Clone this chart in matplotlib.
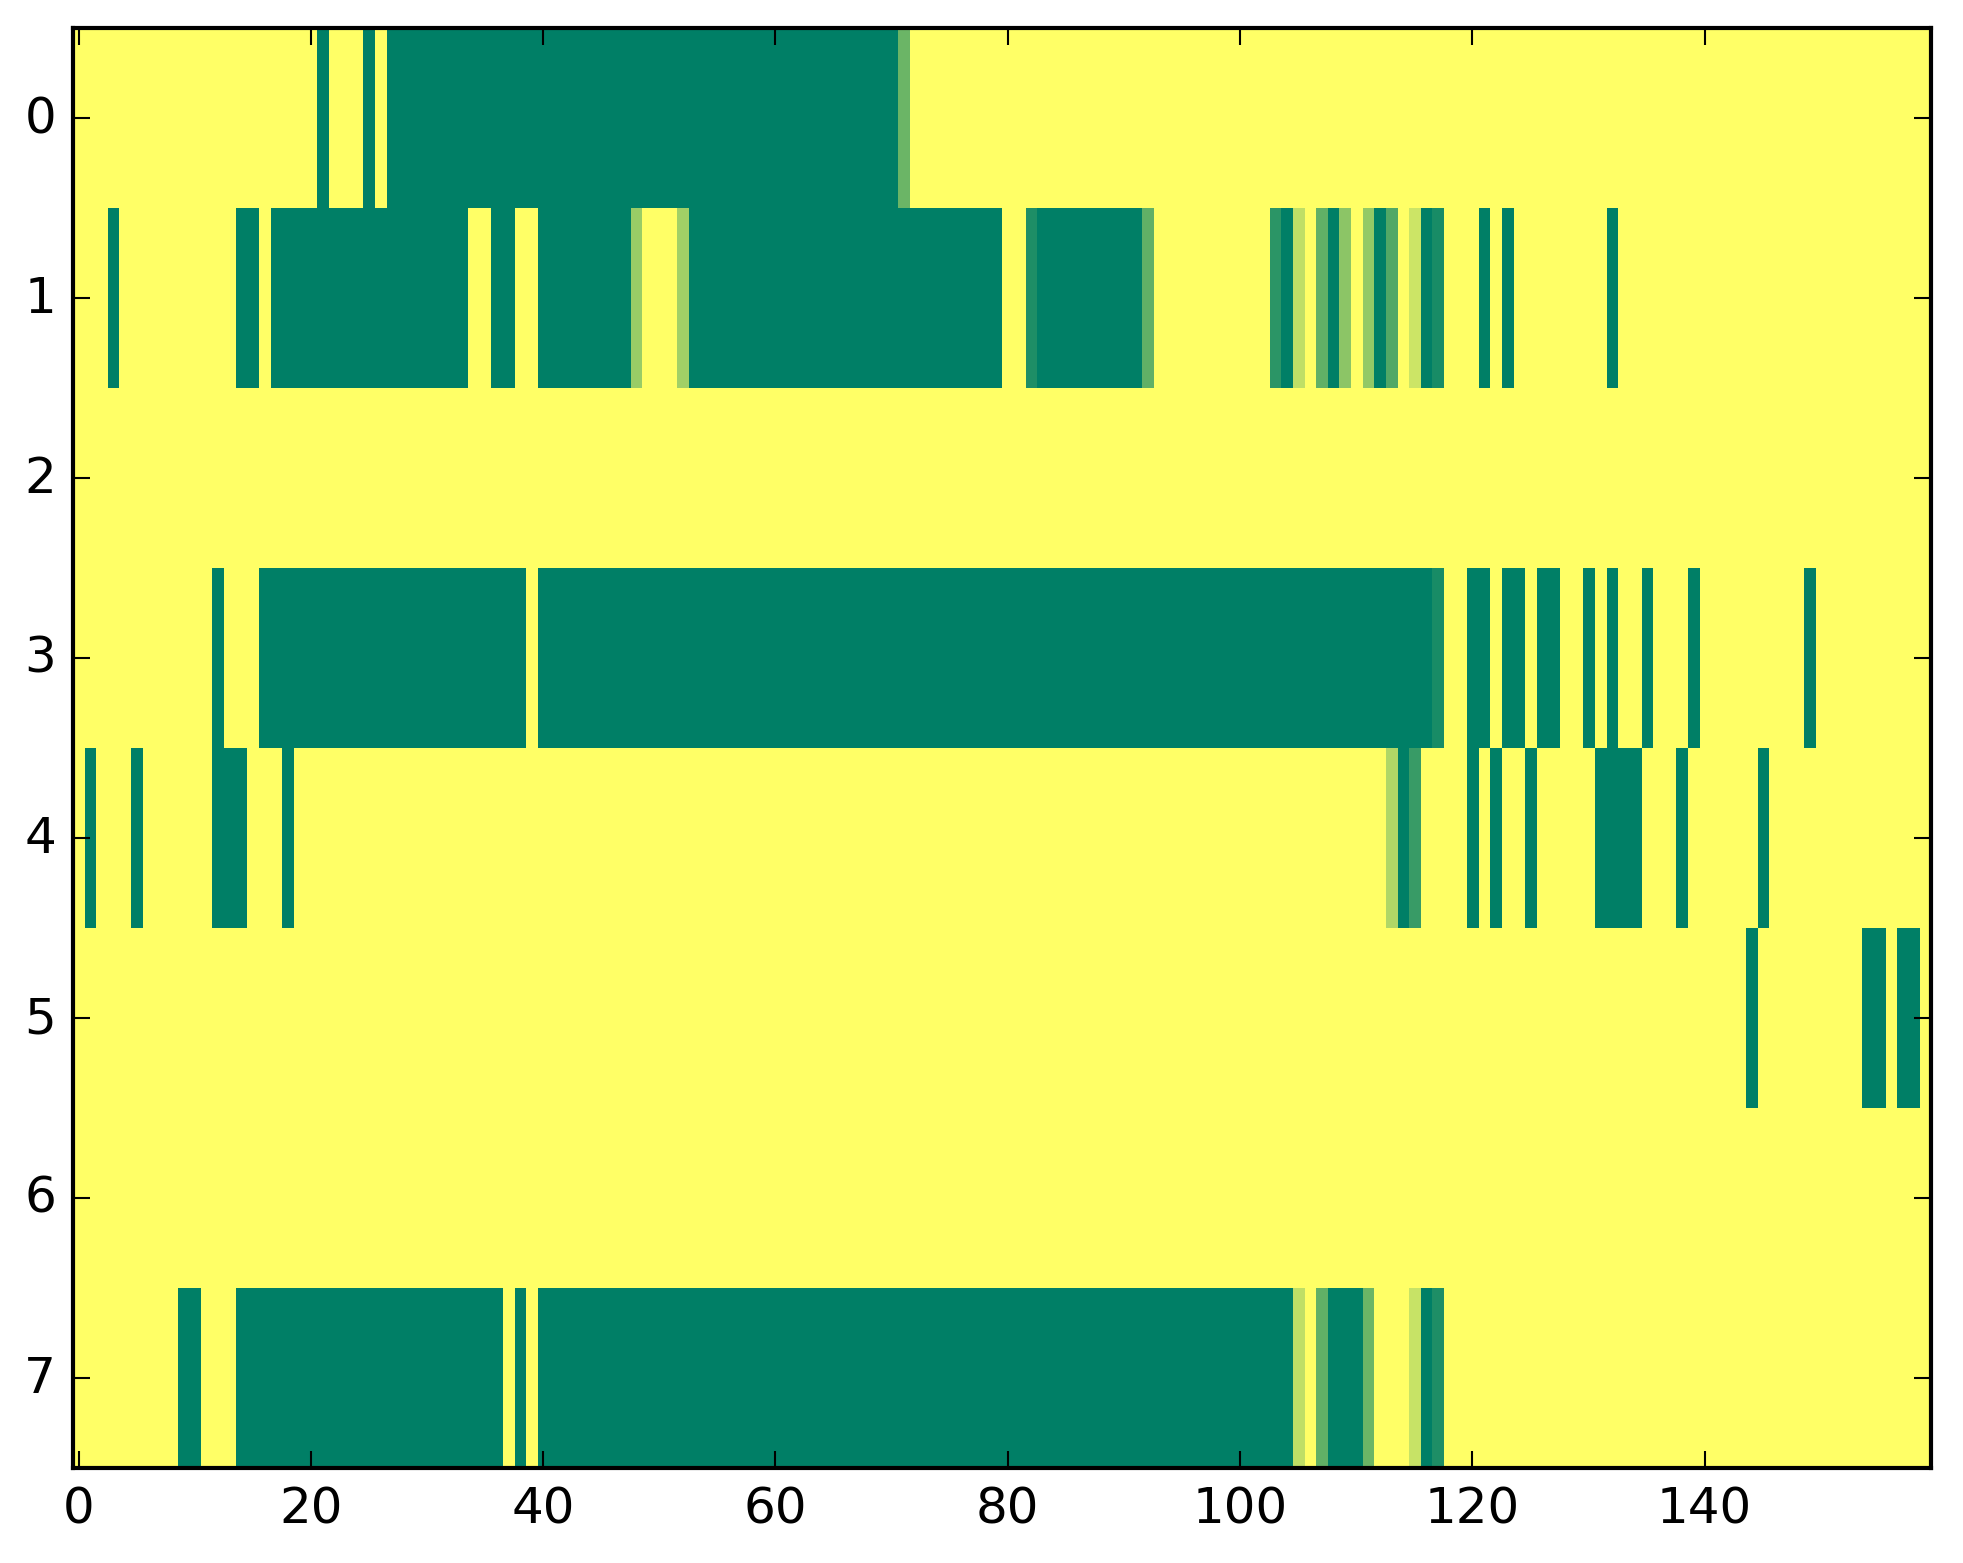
import numpy as np
import matplotlib
matplotlib.use("Agg")
import matplotlib.pyplot as plt

plt.style.use("classic")

# Each row: run-length list of (value, number of consecutive columns)
row0_runs = [(0.0, 21), (1.0, 1), (0.0, 3), (1.0, 1), (0.0, 1), (1.0, 44),
             (0.58, 1), (0.0, 88)]
row1_runs = [(0.0, 3), (1.0, 1), (0.0, 10), (1.0, 2), (0.0, 1), (1.0, 17),
             (0.0, 2), (1.0, 2), (0.0, 2), (1.0, 8), (0.40, 1), (0.0, 3),
             (0.37, 1), (1.0, 27), (0.0, 2), (0.88, 1), (1.0, 9), (0.62, 1),
             (0.0, 10), (0.83, 1), (1.0, 1), (0.25, 1), (0.0, 1), (0.62, 1),
             (1.0, 1), (0.45, 1), (0.0, 1), (0.42, 1), (1.0, 1), (0.68, 1),
             (0.0, 1), (0.20, 1), (1.0, 1), (0.90, 1), (0.0, 3), (1.0, 1),
             (0.0, 1), (1.0, 1), (0.0, 8), (1.0, 1), (0.0, 27)]
row2_runs = [(0.0, 160)]
row3_runs = [(0.0, 12), (1.0, 1), (0.0, 3), (1.0, 23), (0.0, 1), (1.0, 77),
             (0.90, 1), (0.0, 2), (1.0, 2), (0.0, 1), (1.0, 2), (0.0, 1),
             (1.0, 2), (0.0, 2), (1.0, 1), (0.0, 1), (1.0, 1), (0.0, 2),
             (1.0, 1), (0.0, 3), (1.0, 1), (0.0, 9), (1.0, 1), (0.0, 10)]
row4_runs = [(0.0, 1), (1.0, 1), (0.0, 3), (1.0, 1), (0.0, 6), (1.0, 3),
             (0.0, 3), (1.0, 1), (0.0, 94), (0.31, 1), (1.0, 1), (0.78, 1),
             (0.0, 4), (1.0, 1), (0.0, 1), (1.0, 1), (0.0, 2), (1.0, 1),
             (0.0, 5), (1.0, 4), (0.0, 3), (1.0, 1), (0.0, 6), (1.0, 1),
             (0.0, 14)]
row5_runs = [(0.0, 144), (1.0, 1), (0.0, 9), (1.0, 2), (0.0, 1), (1.0, 2),
             (0.0, 1)]
row6_runs = [(0.0, 160)]
row7_runs = [(0.0, 9), (1.0, 2), (0.0, 3), (1.0, 23), (0.0, 1), (1.0, 1),
             (0.0, 1), (1.0, 65), (0.25, 1), (0.0, 1), (0.62, 1), (1.0, 3),
             (0.58, 1), (0.0, 3), (0.22, 1), (1.0, 1), (0.88, 1), (0.0, 42)]

row_labels = [0, 1, 2, 3, 4, 5, 6, 7]


def expand(runs):
    return np.concatenate([np.full(n, v, dtype=float) for v, n in runs])


data = np.vstack([expand(r) for r in (row0_runs, row1_runs, row2_runs,
                                      row3_runs, row4_runs, row5_runs,
                                      row6_runs, row7_runs)])

W, H, DPI = 1963, 1564, 300
fig = plt.figure(figsize=(W / DPI, H / DPI), dpi=DPI, facecolor="white")
left_px, right_px, top_px, bottom_px = 72.8, 1931.0, 29.0, 1469.0
ax = fig.add_axes([left_px / W, (H - bottom_px) / H,
                   (right_px - left_px) / W, (bottom_px - top_px) / H])
ax.imshow(data, cmap="summer_r", vmin=0, vmax=1,
          interpolation="nearest", aspect="auto")
ax.set_yticks(row_labels)
ax.set_xticks([0, 20, 40, 60, 80, 100, 120, 140])

fig.savefig("out.png", dpi=DPI, facecolor="white")
